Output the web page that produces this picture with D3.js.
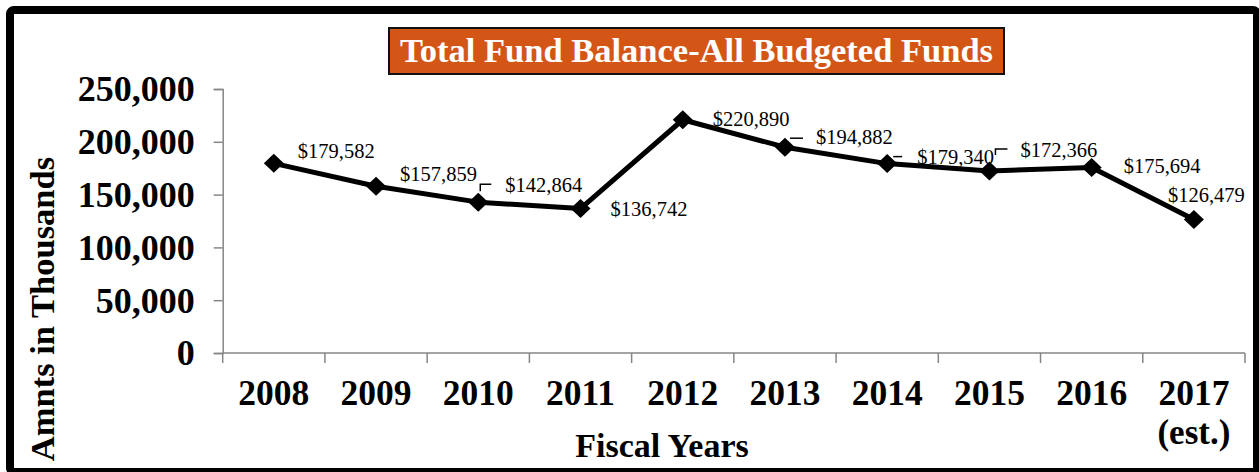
<!DOCTYPE html>
<html>
<head>
<meta charset="utf-8">
<script src="https://cdn.jsdelivr.net/npm/d3@7/dist/d3.min.js"></script>
<style>
  html, body { margin: 0; padding: 0; background: #fff; }
  svg { display: block; }
  text { font-family: "Liberation Serif", "Times New Roman", serif; }
</style>
</head>
<body>
<script>
// Fund balance by fiscal year (amounts in thousands of dollars)
const years = ["2008", "2009", "2010", "2011", "2012", "2013", "2014", "2015", "2016", "2017"];
const yearNotes = ["", "", "", "", "", "", "", "", "", "(est.)"];
const balances = [179582, 157859, 142864, 136742, 220890, 194882, 179340, 172366, 175694, 126479];
const yTicks = [0, 50000, 100000, 150000, 200000, 250000];

// Label placement relative to each marker: [dx, dy] for the text start/baseline
const labelOffsets = [[24, -5], [24, -5], [27, -10], [30, 7], [30, 6], [31, -3], [30, 0], [31, -14], [32, 6], [-26, -17]];
// Short leader strokes for labels that were pulled away from their markers
const leaders = {
  2: [[2, -11], [2, -18], [13, -18]],
  5: [[5, -9], [18, -9]],
  6: [[6, -7], [15, -7]],
  7: [[6, -16], [6, -22], [18, -22]]
};

const W = 1259, H = 472;
const plot = { left: 222.7, right: 1245, top: 89, bottom: 353 };

const svg = d3.select("body").append("svg").attr("width", W).attr("height", H);

// Outer frame
svg.append("rect")
  .attr("x", 10).attr("y", 10).attr("width", 1247).attr("height", 462)
  .attr("rx", 4)
  .attr("fill", "#fff").attr("stroke", "#000").attr("stroke-width", 8);

const x = d3.scaleBand().domain(years).range([plot.left, plot.right]).padding(0);
const y = d3.scaleLinear().domain([0, 250000]).range([plot.bottom, plot.top]);

const axisColor = "#868686";

// Y axis
const yAxis = svg.append("g")
  .attr("transform", `translate(${plot.left},0)`)
  .call(d3.axisLeft(y).tickValues(yTicks).tickSize(9).tickPadding(19)
    .tickFormat(d3.format(",")));
yAxis.select(".domain").attr("stroke", axisColor).attr("stroke-width", 1.5);
yAxis.selectAll(".tick line").attr("stroke", axisColor).attr("stroke-width", 1.5);
yAxis.selectAll(".tick text")
  .attr("font-family", "Liberation Serif, Times New Roman, serif")
  .attr("font-size", 36).attr("font-weight", "bold").attr("fill", "#000")
  .attr("dy", "0.33em");

// X axis with ticks on category boundaries
const xAxisG = svg.append("g").attr("transform", `translate(0,${plot.bottom})`);
xAxisG.append("line")
  .attr("x1", plot.left).attr("x2", plot.right)
  .attr("stroke", axisColor).attr("stroke-width", 1.5);
const boundaries = years.map(d => x(d)).concat([x(years[years.length - 1]) + x.bandwidth()]);
xAxisG.selectAll("line.b").data(boundaries).join("line")
  .attr("class", "b")
  .attr("x1", d => d).attr("x2", d => d).attr("y1", 0).attr("y2", 10)
  .attr("stroke", axisColor).attr("stroke-width", 1.5);
xAxisG.selectAll("text.yr").data(years).join("text")
  .attr("class", "yr")
  .attr("x", d => x(d) + x.bandwidth() / 2).attr("y", 52)
  .attr("text-anchor", "middle")
  .attr("font-size", 35.5).attr("font-weight", "bold")
  .text(d => d);
xAxisG.selectAll("text.note").data(years).join("text")
  .attr("class", "note")
  .attr("x", d => x(d) + x.bandwidth() / 2).attr("y", 91)
  .attr("text-anchor", "middle")
  .attr("font-size", 35).attr("font-weight", "bold")
  .text((d, i) => yearNotes[i]);

// Axis titles
svg.append("text")
  .attr("x", 662).attr("y", 457)
  .attr("text-anchor", "middle")
  .attr("font-size", 34).attr("font-weight", "bold")
  .text("Fiscal Years");
svg.append("text")
  .attr("transform", "translate(54,309) rotate(-90)")
  .attr("text-anchor", "middle")
  .attr("font-size", 34.5).attr("font-weight", "bold")
  .text("Amnts in Thousands");

// Title box
const titleG = svg.append("g");
titleG.append("rect")
  .attr("x", 389).attr("y", 28).attr("width", 615).attr("height", 46)
  .attr("fill", "#D45617").attr("stroke", "#111").attr("stroke-width", 2);
titleG.append("text")
  .attr("x", 696.5).attr("y", 62)
  .attr("text-anchor", "middle")
  .attr("font-size", 34.5).attr("font-weight", "bold").attr("fill", "#fff")
  .text("Total Fund Balance-All Budgeted Funds");

// Line series
const pts = balances.map((v, i) => [x(years[i]) + x.bandwidth() / 2, y(v)]);
svg.append("path")
  .datum(pts)
  .attr("d", d3.line())
  .attr("fill", "none").attr("stroke", "#000").attr("stroke-width", 5)
  .attr("stroke-linejoin", "round");

// Diamond markers
svg.selectAll("path.marker").data(pts).join("path")
  .attr("class", "marker")
  .attr("d", d => `M${d[0]},${d[1] - 9.5}L${d[0] + 10},${d[1]}L${d[0]},${d[1] + 9.5}L${d[0] - 10},${d[1]}Z`)
  .attr("fill", "#000");

// Leader lines
Object.entries(leaders).forEach(([i, seg]) => {
  const p = pts[+i];
  svg.append("path")
    .attr("d", d3.line()(seg.map(s => [p[0] + s[0], p[1] + s[1]])))
    .attr("fill", "none").attr("stroke", "#000").attr("stroke-width", 1.5);
});

// Value labels
const fmt = d3.format(",");
svg.selectAll("text.val").data(balances).join("text")
  .attr("class", "val")
  .attr("x", (d, i) => pts[i][0] + labelOffsets[i][0])
  .attr("y", (d, i) => pts[i][1] + labelOffsets[i][1])
  .attr("font-size", 20.5).attr("fill", "#000")
  .text(d => "$" + fmt(d));
</script>
</body>
</html>
